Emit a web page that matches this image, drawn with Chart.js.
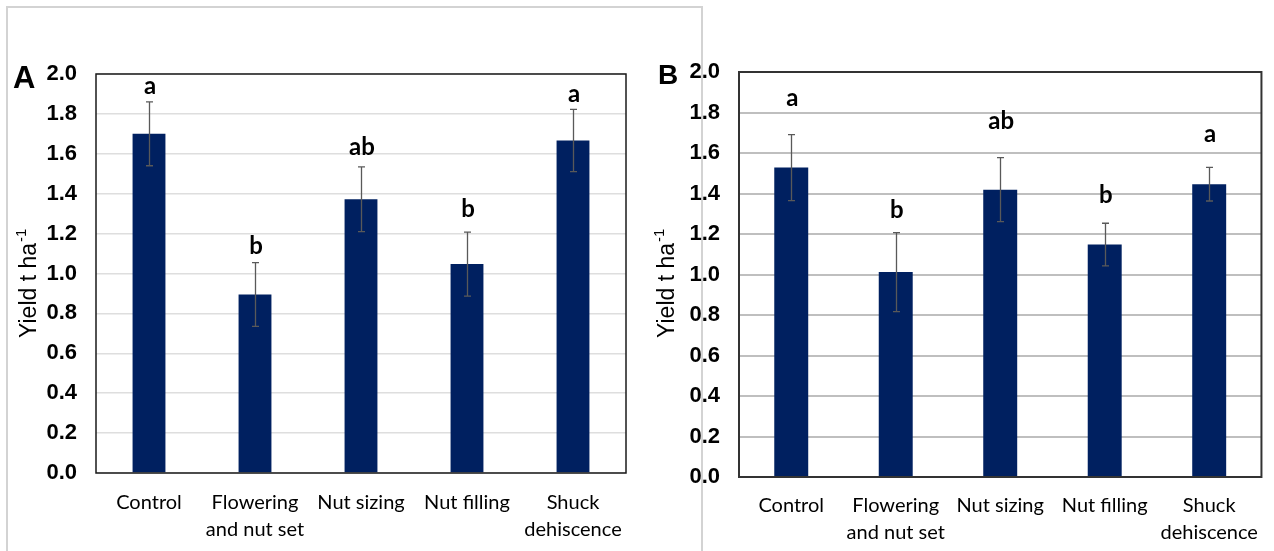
<!DOCTYPE html>
<html>
<head>
<meta charset="utf-8">
<script src="https://cdn.jsdelivr.net/npm/chart.js@4"></script>
<style>
body{margin:0;background:#fff;width:1274px;height:551px;overflow:hidden;position:relative}
#frameA{position:absolute;left:6px;top:6px;width:697px;height:600px;border:2px solid #d3d3d3;box-sizing:border-box}
#chartA{position:absolute;left:0;top:0}
#chartB{position:absolute;left:640px;top:0}
</style>
</head>
<body>
<div id="frameA"></div>
<canvas id="chartA" width="705" height="551"></canvas>
<canvas id="chartB" width="634" height="551"></canvas>
<script>
// shared
var categories=[["Control"],["Flowering","and nut set"],["Nut sizing"],["Nut filling"],["Shuck","dehiscence"]];
var yTicks=[0,0.2,0.4,0.6,0.8,1.0,1.2,1.4,1.6,1.8,2.0];

// panel A
var yieldA=[1.70,0.895,1.372,1.047,1.667];
var errA=[0.16,0.16,0.162,0.16,0.156];
var lettersA=["a","b","ab","b","a"];
var letterPosA=[1.90,1.10,1.596,1.283,1.86];

// panel B
var yieldB=[1.528,1.012,1.419,1.148,1.446];
var errB=[0.163,0.195,0.158,0.105,0.083];
var lettersB=["a","b","ab","b","a"];
var letterPosB=[1.832,1.279,1.717,1.353,1.653];

function panelPlugin(p){
return {
id:"panel"+p.tag,
afterDatasetsDraw(chart){
var ctx=chart.ctx,x=chart.scales.x,y=chart.scales.y,a=chart.chartArea;
ctx.save();
// plot frame
ctx.strokeStyle=p.frameColor;
ctx.lineWidth=p.frameWidth;
ctx.strokeRect(a.left,a.top,a.right-a.left,a.bottom-a.top);
// error bars
ctx.strokeStyle="#595959";
ctx.lineWidth=1.3;
p.values.forEach(function(v,i){
var cx=Math.round(x.getPixelForValue(i))+0.5;
var hi=y.getPixelForValue(v+p.errors[i]);
var lo=y.getPixelForValue(v-p.errors[i]);
ctx.beginPath();
ctx.moveTo(cx,hi);ctx.lineTo(cx,lo);
ctx.moveTo(cx-3.5,hi);ctx.lineTo(cx+3.5,hi);
ctx.moveTo(cx-3.5,lo);ctx.lineTo(cx+3.5,lo);
ctx.stroke();
});
// letters
ctx.fillStyle="#000";
ctx.font="bold 24px Lato";
ctx.textAlign="center";
ctx.textBaseline="alphabetic";
p.letters.forEach(function(t,i){
ctx.fillText(t,x.getPixelForValue(i)+1,y.getPixelForValue(p.letterPos[i]));
});
// panel tag
ctx.textAlign="left";
ctx.font=p.tagFont;
ctx.fillText(p.tag,p.tagX,p.tagY);
// y title
ctx.translate(p.titleX,p.titleY);
ctx.rotate(-Math.PI/2);
ctx.font="23px 'Liberation Sans'";
ctx.fillText("Yield t ha",0,0);
var w=ctx.measureText("Yield t ha").width;
ctx.font="15px 'Liberation Sans'";
ctx.fillText("-1",w+1,-10);
ctx.restore();
}
};
}

function makeChart(id,p){
return new Chart(
document.getElementById(id),
{
type:"bar",
data:{
labels:categories,
datasets:[{
data:p.values,
backgroundColor:"#002060",
barPercentage:p.barPct,
categoryPercentage:1
}]
},
options:{
responsive:false,
animation:false,
devicePixelRatio:1,
layout:{padding:p.pad},
plugins:{legend:{display:false},tooltip:{enabled:false}},
scales:{
x:{
grid:{display:false,drawTicks:false},
border:{display:false},
ticks:{color:"#000",font:{family:"Lato",size:20,lineHeight:1.35},padding:p.xPad,maxRotation:0},
afterFit:function(s){s.height=p.xHeight;}
},
y:{
min:0,max:2,
afterBuildTicks:function(s){s.ticks=yTicks.map(function(v){return {value:v};});},
grid:{color:p.gridColor,lineWidth:p.gridWidth,drawTicks:false},
border:{display:false},
ticks:{color:"#000",font:{family:"'Liberation Sans', Arial",size:22,weight:"bold"},padding:19,callback:function(v){return v.toFixed(1);}},
afterFit:function(s){s.width=p.yWidth;}
}
}
},
plugins:[panelPlugin(p)]
}
);
}

makeChart("chartA",{
tag:"A",values:yieldA,errors:errA,letters:lettersA,letterPos:letterPosA,
pad:{left:0,right:79,top:74,bottom:0},yWidth:96,xHeight:78,xPad:16,
barPct:0.31,gridColor:"#dedede",gridWidth:1.5,frameColor:"#1a1a1a",frameWidth:1.5,
tagFont:"bold 31px 'Liberation Sans'",tagX:13,tagY:88,titleX:36,titleY:338
});

makeChart("chartB",{
tag:"B",values:yieldB,errors:errB,letters:lettersB,letterPos:letterPosB,
pad:{left:0,right:11,top:72,bottom:0},yWidth:99,xHeight:74,xPad:15,
barPct:0.325,gridColor:"#bfbfbf",gridWidth:2,frameColor:"#333333",frameWidth:2,
tagFont:"bold 28px 'Liberation Sans'",tagX:18,tagY:84,titleX:34,titleY:338
});
</script>
</body>
</html>
